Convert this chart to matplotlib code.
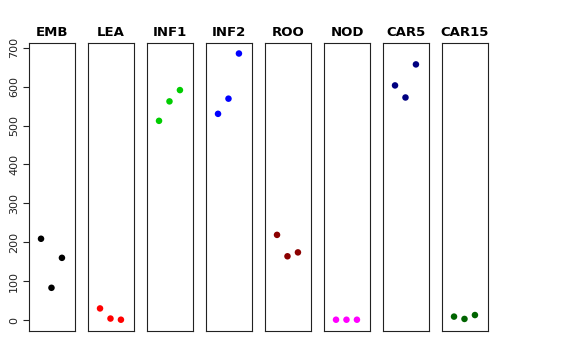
import matplotlib
matplotlib.use("Agg")
import matplotlib.pyplot as plt

# tissues, 3 replicates each
tissues = ["EMB", "LEA", "INF1", "INF2", "ROO", "NOD", "CAR5", "CAR15"]
colors = ["black", "red", "#00CD00", "blue", "#8B0000", "magenta", "#000080", "#006400"]
values = [
    [209, 83, 160],
    [30, 4, 1],
    [512, 562, 591],
    [530, 569, 685],
    [219, 164, 174],
    [1, 1, 1],
    [603, 572, 657],
    [9, 3, 13],
]
reps = [1, 2, 3]

fig = plt.figure(figsize=(5.76, 3.6), dpi=100)
W, H = 576, 360
left0, pw, gap = 29, 46, 13
top, bottom = 43, 331
ymin, ymax = -28, 712

for i, (name, col, vals) in enumerate(zip(tissues, colors, values)):
    x0 = left0 + i * (pw + gap)
    ax = fig.add_axes([x0 / W, (H - bottom) / H, pw / W, (bottom - top) / H])
    ax.scatter(reps, vals, s=22, color=col, edgecolors="none", zorder=3)
    ax.set_xlim(-0.15, 4.25)
    ax.set_ylim(ymin, ymax)
    ax.set_xticks([])
    for sp in ax.spines.values():
        sp.set_linewidth(0.8)
        sp.set_color("#222222")
    ax.set_title(name, fontsize=9.5, fontweight="bold", pad=5)
    if i == 0:
        ax.set_yticks(range(0, 701, 100))
        ax.tick_params(axis="y", length=4, width=0.8, labelsize=8, pad=3,
                       labelrotation=90, colors="#222222")
        for lab in ax.get_yticklabels():
            lab.set_va("center")
    else:
        ax.set_yticks([])

fig.savefig("out.png", dpi=100)
